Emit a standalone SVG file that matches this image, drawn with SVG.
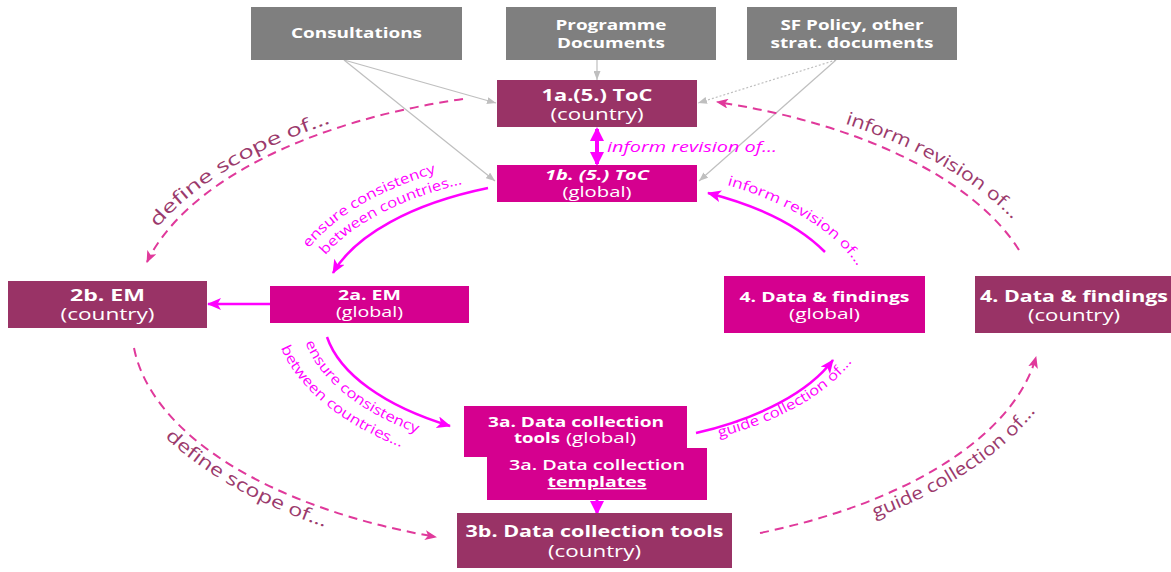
<svg xmlns="http://www.w3.org/2000/svg" xmlns:xlink="http://www.w3.org/1999/xlink" width="1171" height="572" viewBox="0 0 1171 572">
<style>
  .grey{fill:#7f7f7f}
  .country{fill:#993366}
  .global{fill:#d5008f}
  text{font-family:'Open Sans','Liberation Sans',sans-serif}
  .t{fill:#ffffff;text-anchor:middle}
  .b{font-weight:700}
  .sb{font-weight:600}
  .gc{fill:none;stroke:#bfbfbf;stroke-width:1.2}
  .dash{fill:none;stroke:#e0399b;stroke-width:2;stroke-dasharray:9 6}
  .sol{fill:none;stroke:#ff00ff;stroke-width:2.5}
  .plum{fill:#9b3a6c;font-size:18px}
  .mag{fill:#ff00ff;font-size:14px}
  .guide{fill:none;stroke:none}
</style>
<defs>
  <marker id="mg" markerUnits="userSpaceOnUse" markerWidth="9" markerHeight="7" refX="9" refY="3.5" orient="auto"><path d="M0,0 L9,3.5 L0,7 z" fill="#bfbfbf"/></marker>
  <marker id="mm" markerUnits="userSpaceOnUse" markerWidth="14" markerHeight="12" refX="13" refY="6" orient="auto"><path d="M0,0 L14,6 L0,12 L3.5,6 z" fill="#ff00ff"/></marker>
  <marker id="mm2" markerUnits="userSpaceOnUse" markerWidth="14" markerHeight="14" refX="12" refY="7" orient="auto-start-reverse"><path d="M0,0 L14,7 L0,14 z" fill="#ff00ff"/></marker>
  <marker id="md" markerUnits="userSpaceOnUse" markerWidth="12" markerHeight="10" refX="11" refY="5" orient="auto"><path d="M0,0 L12,5 L0,10 L3,5 z" fill="#e0399b"/></marker>
  <path id="T1" d="M157.4,227.8 A470,236 0 0 1 590,84"/>
  <path id="T2" d="M844.9,123.7 A468,234 0 0 1 1058,320"/>
  <path id="T3" d="M165,437 A482,248 0 0 0 590,568"/>
  <path id="T4" d="M875,518 A480,246 0 0 0 1070,320"/>
  <path id="P5a" d="M308.9,248.3 A300,158 0 0 1 637.1,154.4"/>
  <path id="P5b" d="M325.4,255.3 A282,140 0 0 1 634,172.1"/>
  <path id="P6a" d="M305.4,342.6 A287,145 0 0 0 685.6,452.9"/>
  <path id="P6b" d="M281,347.8 A312,168 0 0 0 691.7,469.8"/>
  <path id="P7" d="M719.2,437.2 A286,144 0 0 0 871,310"/>
  <path id="P8" d="M727,185 A286,144 0 0 1 871,310"/>
</defs>

<g id="connectors">
  <line class="gc" x1="344" y1="60" x2="496" y2="103" marker-end="url(#mg)"/>
  <line class="gc" x1="344" y1="60" x2="495" y2="181" marker-end="url(#mg)"/>
  <line class="gc" x1="597" y1="60" x2="597" y2="80" marker-end="url(#mg)"/>
  <line class="gc" x1="836" y1="60" x2="698" y2="103" stroke-dasharray="2 2" stroke="#cfcfcf" marker-end="url(#mg)"/>
  <line class="gc" x1="836" y1="60" x2="699" y2="181" marker-end="url(#mg)"/>

  <line x1="597" y1="129" x2="597" y2="164" stroke="#ff00ff" stroke-width="4" marker-start="url(#mm2)" marker-end="url(#mm2)"/>
  <line x1="270" y1="304" x2="208" y2="304" stroke="#ff00ff" stroke-width="2.5" marker-end="url(#mm)"/>
  <line x1="597" y1="500" x2="597" y2="513" stroke="#ff00ff" stroke-width="3" marker-end="url(#mm2)"/>

  <path class="dash" d="M463,99 A458,224 0 0 0 147,262" marker-end="url(#md)"/>
  <path class="dash" d="M1019,250 A458,224 0 0 0 717,102" marker-end="url(#md)"/>
  <path class="dash" d="M134,348 A458,224 0 0 0 436,537" marker-end="url(#md)"/>
  <path class="dash" d="M760,533 A458,224 0 0 0 1036,357" marker-end="url(#md)"/>

  <path class="sol" d="M488,188 A272,130 0 0 0 333,273" marker-end="url(#mm)"/>
  <path class="sol" d="M327,337 A272,130 0 0 0 450,426" marker-end="url(#mm)"/>
  <path class="sol" d="M696,433 A272,130 0 0 0 833,360" marker-end="url(#mm)"/>
  <path class="sol" d="M825,252 A272,130 0 0 0 708,193" marker-end="url(#mm)"/>

  <text class="plum"><textPath href="#T1" xlink:href="#T1" textLength="205" lengthAdjust="spacingAndGlyphs">define scope of...</textPath></text>
  <text class="plum"><textPath href="#T2" xlink:href="#T2" textLength="195" lengthAdjust="spacingAndGlyphs">inform revision of...</textPath></text>
  <text class="plum"><textPath href="#T3" xlink:href="#T3" textLength="185" lengthAdjust="spacingAndGlyphs">define scope of...</textPath></text>
  <text class="plum"><textPath href="#T4" xlink:href="#T4" textLength="195" lengthAdjust="spacingAndGlyphs">guide collection of...</textPath></text>

  <text class="mag"><textPath href="#P5a" xlink:href="#P5a" textLength="150" lengthAdjust="spacingAndGlyphs">ensure consistency</textPath></text>
  <text class="mag"><textPath href="#P5b" xlink:href="#P5b" textLength="157" lengthAdjust="spacingAndGlyphs">between countries...</textPath></text>
  <text class="mag"><textPath href="#P6a" xlink:href="#P6a" textLength="148" lengthAdjust="spacingAndGlyphs">ensure consistency</textPath></text>
  <text class="mag"><textPath href="#P6b" xlink:href="#P6b" textLength="160" lengthAdjust="spacingAndGlyphs">between countries...</textPath></text>
  <text class="mag"><textPath href="#P7" xlink:href="#P7" textLength="155" lengthAdjust="spacingAndGlyphs">guide collection of...</textPath></text>
  <text class="mag"><textPath href="#P8" xlink:href="#P8" textLength="157" lengthAdjust="spacingAndGlyphs">inform revision of...</textPath></text>

  <text x="607" y="152" fill="#ff00ff" font-size="15" font-style="italic" textLength="170" lengthAdjust="spacingAndGlyphs">inform revision of...</text>
</g>

<g id="consultations">
  <rect class="grey" x="251" y="7" width="211" height="53"/>
  <text class="t b" x="356.5" y="38" font-size="14.5" textLength="131" lengthAdjust="spacingAndGlyphs">Consultations</text>
</g>
<g id="programme-documents">
  <rect class="grey" x="506" y="7" width="210" height="53"/>
  <text class="t b" x="611" y="30" font-size="14" textLength="111" lengthAdjust="spacingAndGlyphs">Programme</text>
  <text class="t b" x="611" y="48" font-size="14" textLength="108" lengthAdjust="spacingAndGlyphs">Documents</text>
</g>
<g id="sf-policy">
  <rect class="grey" x="747" y="7" width="210" height="53"/>
  <text class="t b" x="852" y="30" font-size="14" textLength="143" lengthAdjust="spacingAndGlyphs">SF Policy, other</text>
  <text class="t b" x="852" y="48" font-size="14" textLength="163" lengthAdjust="spacingAndGlyphs">strat. documents</text>
</g>

<g id="toc-country">
  <rect class="country" x="497" y="80" width="200" height="47"/>
  <text class="t b" x="597" y="101" font-size="16" textLength="111" lengthAdjust="spacingAndGlyphs">1a.(5.) ToC</text>
  <text class="t" x="597" y="120" font-size="16" textLength="93" lengthAdjust="spacingAndGlyphs">(country)</text>
</g>
<g id="toc-global">
  <rect class="global" x="497" y="165" width="200" height="37"/>
  <text class="t b" x="597" y="180" font-size="14.5" font-style="italic" textLength="104" lengthAdjust="spacingAndGlyphs">1b. (5.) ToC</text>
  <text class="t" x="597" y="197" font-size="14.5" textLength="69" lengthAdjust="spacingAndGlyphs">(global)</text>
</g>

<g id="em-country">
  <rect class="country" x="8" y="281" width="199" height="47"/>
  <text class="t b" x="107.5" y="301" font-size="16" textLength="75" lengthAdjust="spacingAndGlyphs">2b. EM</text>
  <text class="t" x="107.5" y="320" font-size="16" textLength="94" lengthAdjust="spacingAndGlyphs">(country)</text>
</g>
<g id="em-global">
  <rect class="global" x="270" y="286" width="199" height="37"/>
  <text class="t b" x="369.5" y="300" font-size="14" textLength="63" lengthAdjust="spacingAndGlyphs">2a. EM</text>
  <text class="t" x="369.5" y="317" font-size="14" textLength="67" lengthAdjust="spacingAndGlyphs">(global)</text>
</g>

<g id="data-global">
  <rect class="global" x="724" y="276" width="201" height="57"/>
  <text class="t b" x="824.5" y="302" font-size="15" textLength="170" lengthAdjust="spacingAndGlyphs">4. Data &amp; findings</text>
  <text class="t" x="824.5" y="319" font-size="15" textLength="71" lengthAdjust="spacingAndGlyphs">(global)</text>
</g>
<g id="data-country">
  <rect class="country" x="975" y="276" width="196" height="57"/>
  <text class="t b" x="1074" y="302" font-size="16.5" textLength="188" lengthAdjust="spacingAndGlyphs">4. Data &amp; findings</text>
  <text class="t" x="1074" y="321" font-size="16.5" textLength="92" lengthAdjust="spacingAndGlyphs">(country)</text>
</g>

<g id="dc-tools-global">
  <rect class="global" x="464" y="406" width="223" height="51"/>
  <text class="t b" x="576" y="427" font-size="14" textLength="176" lengthAdjust="spacingAndGlyphs">3a. Data collection</text>
  <text class="b" x="514" y="443" font-size="14" fill="#fff" textLength="46" lengthAdjust="spacingAndGlyphs">tools</text>
  <text x="566" y="443" font-size="14" fill="#fff" textLength="70" lengthAdjust="spacingAndGlyphs">(global)</text>
</g>
<g id="dc-templates">
  <rect class="global" x="487" y="448" width="220" height="52"/>
  <text class="t sb" x="597" y="470" font-size="14" textLength="176" lengthAdjust="spacingAndGlyphs">3a. Data collection</text>
  <text class="t b" x="597" y="487" font-size="14" text-decoration="underline" textLength="99" lengthAdjust="spacingAndGlyphs">templates</text>
</g>
<g id="dc-tools-country">
  <rect class="country" x="457" y="513" width="275" height="55"/>
  <text class="t b" x="594.5" y="537" font-size="16" textLength="258" lengthAdjust="spacingAndGlyphs">3b. Data collection tools</text>
  <text class="t" x="594.5" y="557" font-size="16" textLength="93" lengthAdjust="spacingAndGlyphs">(country)</text>
</g>
</svg>
